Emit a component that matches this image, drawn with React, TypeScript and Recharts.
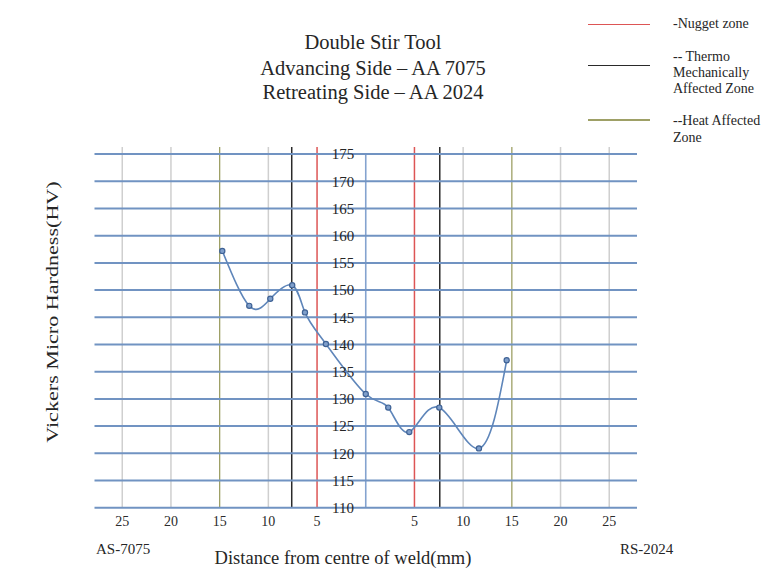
import { LineChart, Line, XAxis, YAxis, ReferenceLine, ReferenceDot } from 'recharts'

// distance from weld centre (mm): negative = advancing side (AA 7075)
const distance = [-14.73, -11.96, -9.8, -7.55, -6.24, -4.09, 0, 2.31, 4.47, 7.55, 11.62, 14.47]
const hardness = [157.2, 147.1, 148.4, 150.9, 145.9, 140.1, 130.9, 128.4, 123.9, 128.4, 120.9, 137.1]

const xTicks = [-25, -20, -15, -10, -5, 5, 10, 15, 20, 25]
const yTicks = [110, 115, 120, 125, 130, 135, 140, 145, 150, 155, 160, 165, 170, 175]
const grayLines = [-25, -20, -10, 10, 20, 25]
const nuggetLines = [-5, 5]
const tmazLines = [-7.6, 7.6]
const hazLines = [-15, 15]

const data = distance.map((d, i) => ({ x: d, hv: hardness[i] }))

const serif = '"Liberation Serif", "Times New Roman", serif'
const RED = '#dd5555'
const BLACK = '#2a2a2a'
const OLIVE = '#9ea066'
const GRID = '#7193c2'

const txt = (extra: React.CSSProperties): React.CSSProperties => ({
  position: 'absolute',
  fontFamily: serif,
  color: '#262626',
  whiteSpace: 'nowrap',
  lineHeight: 1,
  ...extra,
})

export default function App() {
  return (
    <div style={{ position: 'absolute', left: 0, top: 0, width: 782, height: 577, background: '#fff', overflow: 'hidden' }}>
      <LineChart
        width={782}
        height={577}
        data={data}
        margin={{ top: 147, right: 145, bottom: 39.3, left: 94.5 }}
      >
        <XAxis
          dataKey="x"
          type="number"
          domain={[-27.85, 27.85]}
          ticks={xTicks}
          tickFormatter={(v: number) => String(Math.abs(v))}
          axisLine={false}
          tickLine={false}
          height={30}
          tick={{ fontFamily: serif, fontSize: 14, fill: '#2b2b2b' }}
          allowDataOverflow
        />
        <YAxis type="number" domain={[110, 176.3]} hide allowDataOverflow />

        {grayLines.map((v) => (
          <ReferenceLine key={'g' + v} x={v} stroke="#cfcfcf" strokeWidth={1.5} />
        ))}
        {hazLines.map((v) => (
          <ReferenceLine key={'h' + v} x={v} stroke={OLIVE} strokeWidth={1.3} />
        ))}
        {tmazLines.map((v) => (
          <ReferenceLine key={'t' + v} x={v} stroke={BLACK} strokeWidth={1.5} />
        ))}
        {nuggetLines.map((v) => (
          <ReferenceLine key={'n' + v} x={v} stroke={RED} strokeWidth={1.5} />
        ))}
        <ReferenceLine
          segment={[{ x: 0, y: 110 }, { x: 0, y: 175 }]}
          stroke="#84a3cf"
          strokeWidth={1.6}
        />
        {yTicks.map((v) => (
          <ReferenceLine key={'y' + v} y={v} stroke={GRID} strokeWidth={2} />
        ))}
        {yTicks.map((v) => (
          <ReferenceDot
            key={'l' + v}
            x={-2.34}
            y={v}
            r={0}
            fill="none"
            stroke="none"
            label={{ value: String(v), position: 'center', fontFamily: serif, fontSize: 15, fill: '#262626' }}
          />
        ))}

        <Line
          dataKey="hv"
          type="natural"
          stroke="#5f86ba"
          strokeWidth={1.6}
          dot={{ r: 2.6, fill: '#7f9fcb', stroke: '#3f6295', strokeWidth: 1.2 }}
          isAnimationActive={false}
        />
      </LineChart>

      {/* title */}
      <div style={txt({ left: 373, top: 42, transform: 'translate(-50%, -50%)', fontSize: 20.5 })}>Double Stir Tool</div>
      <div style={txt({ left: 373, top: 67.5, transform: 'translate(-50%, -50%)', fontSize: 20.5 })}>Advancing Side – AA 7075</div>
      <div style={txt({ left: 373, top: 91.5, transform: 'translate(-50%, -50%)', fontSize: 20.5 })}>Retreating Side – AA 2024</div>

      {/* zone legend */}
      <div style={{ position: 'absolute', left: 588, top: 23.5, width: 62, height: 1.5, background: RED }} />
      <div style={{ position: 'absolute', left: 588, top: 64.5, width: 62, height: 1.5, background: BLACK }} />
      <div style={{ position: 'absolute', left: 588, top: 118.5, width: 62, height: 2, background: OLIVE }} />
      <div style={txt({ left: 673, top: 24, transform: 'translateY(-50%)', fontSize: 14 })}>-Nugget zone</div>
      <div style={txt({ left: 673, top: 57, transform: 'translateY(-50%)', fontSize: 14 })}>-- Thermo</div>
      <div style={txt({ left: 673, top: 73, transform: 'translateY(-50%)', fontSize: 14 })}>Mechanically</div>
      <div style={txt({ left: 673, top: 89, transform: 'translateY(-50%)', fontSize: 14 })}>Affected Zone</div>
      <div style={txt({ left: 673, top: 121, transform: 'translateY(-50%)', fontSize: 14 })}>--Heat Affected</div>
      <div style={txt({ left: 673, top: 138, transform: 'translateY(-50%)', fontSize: 14 })}>Zone</div>

      {/* axis captions */}
      <div
        style={txt({ left: 52, top: 312, transform: 'translate(-50%, -50%) rotate(-90deg) scaleX(1.3)', fontSize: 17 })}
      >
        Vickers Micro Hardness(HV)
      </div>
      <div style={txt({ left: 96, top: 549, transform: 'translateY(-50%)', fontSize: 15 })}>AS-7075</div>
      <div style={txt({ left: 620, top: 549, transform: 'translateY(-50%)', fontSize: 15 })}>RS-2024</div>
      <div style={txt({ left: 343, top: 558, transform: 'translate(-50%, -50%)', fontSize: 18.5 })}>
        Distance from centre of weld(mm)
      </div>
    </div>
  )
}
